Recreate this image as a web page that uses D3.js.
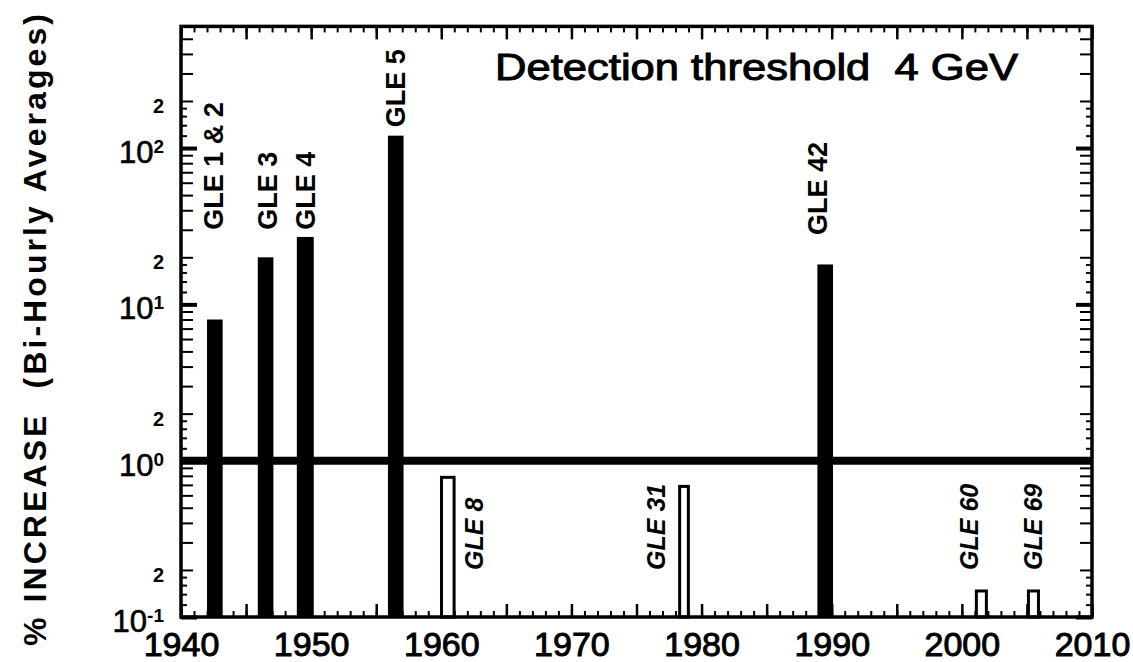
<!DOCTYPE html>
<html>
<head>
<meta charset="utf-8">
<script src="https://cdn.jsdelivr.net/npm/d3@7"></script>
<style>
  body { margin: 0; background: #fff; }
  svg { display: block; font-family: "Liberation Sans", Arial, Helvetica, sans-serif; }
  .axis path { display: none; }
  .axis line { stroke: #000; }
</style>
</head>
<body>
<div id="chart"></div>
<script>
// data
const events = ['GLE 1 & 2', 'GLE 3', 'GLE 4', 'GLE 5', 'GLE 8', 'GLE 31', 'GLE 42', 'GLE 60', 'GLE 69'];
const startYear = [1942.0, 1945.9, 1948.9, 1955.9, 1959.9, 1978.2, 1988.9, 2001.0, 2005.0];
const endYear = [1943.2, 1947.1, 1950.2, 1957.1, 1961.1, 1979.1, 1990.1, 2002.0, 2006.0];
const increase = [8, 20, 27, 120, 0.8, 0.7, 18, 0.15, 0.15];
// where each event label sits (year of label centre, value at label start)
const labelYear = [1942.5, 1946.65, 1949.55, 1956.45, 1962.5, 1976.5, 1988.9, 2000.55, 2005.5];
const labelLevel = [30, 30, 30, 136, 0.2, 0.2, 27.8, 0.2, 0.2];
const threshold = 1;
const decadeTicks = [0.1, 1, 10, 100];
const decadeExp = ['-1', '0', '1', '2'];
const yearLabels = [1940, 1950, 1960, 1970, 1980, 1990, 2000, 2010];

// graph constants
const w = 1133;
const h = 662;
const mLeft = 181, mRight = 1092, mTop = 26.4, mBottom = 617;

const svg = d3.select('#chart')
    .append('svg')
    .attr('width', w)
    .attr('height', h);

const xScale = d3.scaleLinear().domain([1940, 2010]).range([mLeft, mRight]);
const yScale = d3.scaleLog().domain([0.1, 600]).range([mBottom, mTop]);

// tick sets for the log axis
const midTicks = [], smallTicks = [];
decadeTicks.forEach(d => {
    [2, 3, 4, 5, 6, 7, 8, 9].forEach(k => { if (k * d <= 600) midTicks.push(k * d); });
    [1.2, 1.4, 1.6, 1.8].forEach(k => { if (k * d <= 600) smallTicks.push(k * d); });
});

const minorYears = d3.range(1940, 2011, 1);
const majorYears = d3.range(1940, 2011, 5);

// x axes (bottom and top), ticks pointing inward
svg.append('g').attr('class', 'axis')
    .attr('transform', `translate(0, ${mBottom})`)
    .call(d3.axisBottom(xScale).tickValues(minorYears).tickSizeInner(-6).tickFormat(''))
    .selectAll('line').attr('stroke-width', 2);
const xb = svg.append('g').attr('class', 'axis')
    .attr('transform', `translate(0, ${mBottom})`)
    .call(d3.axisBottom(xScale).tickValues(majorYears).tickSizeInner(-13).tickPadding(15)
        .tickFormat(d => yearLabels.includes(d) ? d : ''));
xb.selectAll('line').attr('stroke-width', 2.5);
xb.selectAll('text')
    .attr('font-size', 34).attr('fill', '#000')
    .attr('stroke', '#000').attr('stroke-width', 1)
    .attr('font-family', '"Liberation Sans", Arial, sans-serif');

svg.append('g').attr('class', 'axis')
    .attr('transform', `translate(0, ${mTop})`)
    .call(d3.axisTop(xScale).tickValues(minorYears).tickSizeInner(-6).tickFormat(''))
    .selectAll('line').attr('stroke-width', 2);
svg.append('g').attr('class', 'axis')
    .attr('transform', `translate(0, ${mTop})`)
    .call(d3.axisTop(xScale).tickValues(majorYears).tickSizeInner(-13).tickFormat(''))
    .selectAll('line').attr('stroke-width', 2.5);

// y axes (left and right)
[[d3.axisLeft, mLeft], [d3.axisRight, mRight]].forEach(([axis, pos]) => {
    svg.append('g').attr('class', 'axis')
        .attr('transform', `translate(${pos}, 0)`)
        .call(axis(yScale).tickValues(smallTicks).tickSizeInner(-6).tickFormat(''))
        .selectAll('line').attr('stroke-width', 2);
    svg.append('g').attr('class', 'axis')
        .attr('transform', `translate(${pos}, 0)`)
        .call(axis(yScale).tickValues(midTicks).tickSizeInner(-12).tickFormat(''))
        .selectAll('line').attr('stroke-width', 2);
    svg.append('g').attr('class', 'axis')
        .attr('transform', `translate(${pos}, 0)`)
        .call(axis(yScale).tickValues(decadeTicks).tickSizeInner(-16).tickFormat(''))
        .selectAll('line').attr('stroke-width', 4);
});

// decade labels 10^n
const decLabels = svg.append('g')
    .selectAll('text')
    .data(decadeTicks)
    .enter()
    .append('text')
    .attr('x', mLeft - 17)
    .attr('y', d => yScale(d) + 15)
    .attr('text-anchor', 'end')
    .attr('fill', '#000');
decLabels.append('tspan')
    .attr('font-size', 31)
    .attr('stroke', '#000')
    .attr('stroke-width', 0.6)
    .text('10');
decLabels.append('tspan')
    .attr('font-size', 19)
    .attr('font-weight', 'bold')
    .attr('dy', -10)
    .text((d, i) => decadeExp[i]);

// "2" labels
svg.append('g')
    .selectAll('text')
    .data(decadeTicks.map(d => 2 * d))
    .enter()
    .append('text')
    .attr('x', mLeft - 17)
    .attr('y', d => yScale(d) + 12)
    .attr('text-anchor', 'end')
    .attr('font-size', 20)
    .attr('font-weight', 'bold')
    .text('2');

// bars
svg.append('g')
    .selectAll('rect')
    .data(events)
    .enter()
    .append('rect')
    .each(function (d, i) {
        const filled = increase[i] >= threshold;
        const x0 = xScale(startYear[i]);
        const x1 = xScale(endYear[i]);
        const yTop = yScale(increase[i]);
        const inset = filled ? 0 : 1.5;
        d3.select(this)
            .attr('x', x0 + inset)
            .attr('y', yTop + inset)
            .attr('width', x1 - x0 - 2 * inset)
            .attr('height', yScale(0.1) - yTop - inset)
            .attr('fill', filled ? '#000' : '#fff')
            .attr('stroke', filled ? 'none' : '#000')
            .attr('stroke-width', 3);
    });

// detection threshold line at 1 %
svg.append('line')
    .attr('x1', xScale(1940))
    .attr('x2', xScale(2010))
    .attr('y1', yScale(threshold))
    .attr('y2', yScale(threshold))
    .attr('stroke', '#000')
    .attr('stroke-width', 8);

// event labels (rotated)
svg.append('g')
    .selectAll('text')
    .data(events)
    .enter()
    .append('text')
    .each(function (d, i) {
        const filled = increase[i] >= threshold;
        const size = filled ? 27 : 25;
        const tx = xScale(labelYear[i]) + size * 0.36;
        const ty = yScale(labelLevel[i]);
        d3.select(this)
            .attr('transform', `translate(${tx}, ${ty}) rotate(-90)`)
            .attr('font-size', size)
            .attr('font-weight', 'bold')
            .attr('font-style', filled ? 'normal' : 'italic')
            .style('white-space', 'pre')
            .text(d);
    });

// frame
svg.append('rect')
    .attr('x', mLeft)
    .attr('y', mTop)
    .attr('width', mRight - mLeft)
    .attr('height', mBottom - mTop)
    .attr('fill', 'none')
    .attr('stroke', '#000')
    .attr('stroke-width', 3.5);

// title inside plot
svg.append('text')
    .attr('x', 495)
    .attr('y', 80)
    .attr('font-size', 37)
    .attr('stroke', '#000')
    .attr('stroke-width', 1)
    .attr('textLength', 523)
    .attr('lengthAdjust', 'spacingAndGlyphs')
    .style('white-space', 'pre')
    .text('Detection threshold  4 GeV');

// y axis title
svg.append('text')
    .attr('transform', `translate(46, 330) rotate(-90)`)
    .attr('text-anchor', 'middle')
    .attr('font-size', 32)
    .attr('font-weight', 'bold')
    .attr('textLength', 632)
    .attr('lengthAdjust', 'spacing')
    .style('white-space', 'pre')
    .text('% INCREASE  (Bi-Hourly Averages)');
</script>
</body>
</html>
